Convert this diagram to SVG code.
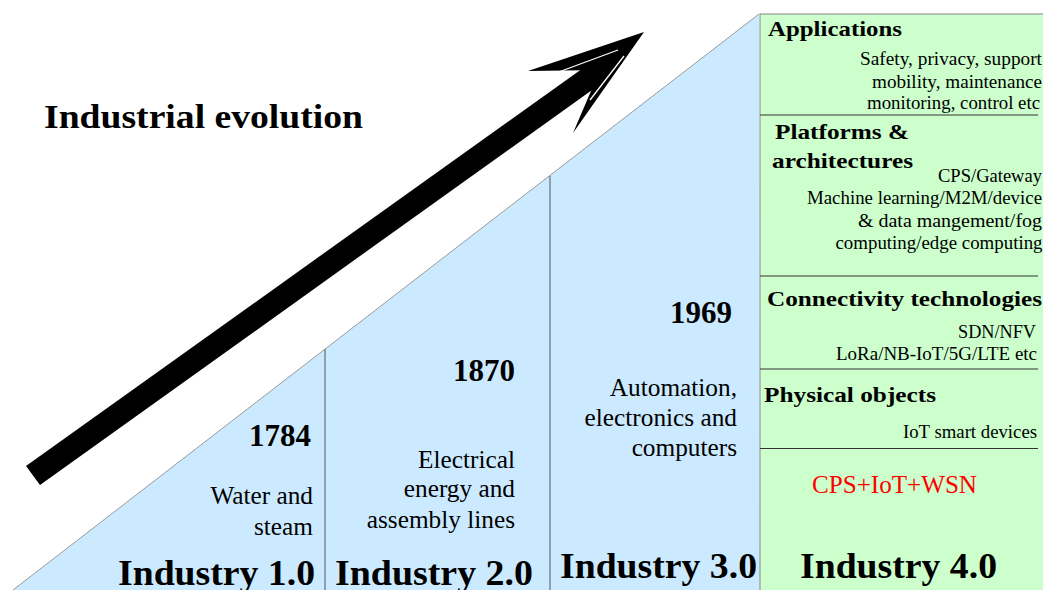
<svg xmlns="http://www.w3.org/2000/svg" width="1043" height="590" viewBox="0 0 1043 590" font-family="'Liberation Serif', 'DejaVu Serif', 'Times New Roman', serif">
<style>
text{font-family:'Liberation Serif','DejaVu Serif','Times New Roman',serif;fill:#000}
.hd{font-size:22px;font-weight:bold}
.sm{font-size:18.5px;text-anchor:end}
.yr{font-size:31px;font-weight:bold}
.ds{font-size:25.3px;text-anchor:end}
.ind{font-size:36px;font-weight:bold}
.sep{stroke:#333;stroke-width:1}
.vl{stroke:#555;stroke-width:1}
</style>
<rect width="1043" height="590" fill="#fff"/>
<g id="background">
<polygon points="13,590 759,14 760,590" fill="#cceaff"/>
<line x1="13" y1="590" x2="759" y2="14" stroke="#9a9a9a" stroke-width="1"/>
<rect x="760" y="14" width="290" height="580" fill="#ccffcc" stroke="#888" stroke-width="1"/>
</g>
<g id="connectors">
<line class="vl" x1="325" y1="349" x2="325" y2="590"/>
<line class="vl" x1="550" y1="176" x2="550" y2="590"/>
<line class="sep" x1="760" y1="115" x2="1038" y2="115"/>
<line class="sep" x1="760" y1="276" x2="1038" y2="276"/>
<line class="sep" x1="760" y1="369" x2="1038" y2="369"/>
<line class="sep" x1="760" y1="448.5" x2="1038" y2="448.5"/>
</g>
<g id="arrow">
<polygon points="26,466 40,485 613,75 600,56" fill="#000"/>
<polygon points="644,32 528,71 600,70 573,133" fill="#000"/>
<polyline points="556,73 618,50" fill="none" stroke="#fff" stroke-width="1.3"/>
<polyline points="590,100 624,56" fill="none" stroke="#fff" stroke-width="1.3"/>
</g>
<g id="title">
<text x="44" y="128" font-size="34" font-weight="bold" textLength="319" lengthAdjust="spacingAndGlyphs">Industrial evolution</text>
</g>
<g id="industry1">
<text class="yr" x="249" y="446" textLength="62" lengthAdjust="spacingAndGlyphs">1784</text>
<text class="ds" x="313" y="504">Water and</text>
<text class="ds" x="313" y="535">steam</text>
<text class="ind" x="118" y="585" textLength="197" lengthAdjust="spacingAndGlyphs">Industry 1.0</text>
</g>
<g id="industry2">
<text class="yr" x="453" y="381" textLength="62" lengthAdjust="spacingAndGlyphs">1870</text>
<text class="ds" x="515" y="468">Electrical</text>
<text class="ds" x="515" y="497">energy and</text>
<text class="ds" x="515" y="528">assembly lines</text>
<text class="ind" x="335" y="585" textLength="198" lengthAdjust="spacingAndGlyphs">Industry 2.0</text>
</g>
<g id="industry3">
<text class="yr" x="670" y="323" textLength="62" lengthAdjust="spacingAndGlyphs">1969</text>
<text class="ds" x="737" y="396">Automation,</text>
<text class="ds" x="737" y="426">electronics and</text>
<text class="ds" x="737" y="456">computers</text>
<text class="ind" x="560" y="578" textLength="197" lengthAdjust="spacingAndGlyphs">Industry 3.0</text>
</g>
<g id="applications">
<text class="hd" x="768" y="36" textLength="134" lengthAdjust="spacingAndGlyphs">Applications</text>
<text class="sm" x="1042" y="65" textLength="182" lengthAdjust="spacingAndGlyphs">Safety, privacy, support</text>
<text class="sm" x="1042" y="87.5" textLength="170" lengthAdjust="spacingAndGlyphs">mobility, maintenance</text>
<text class="sm" x="1040" y="108.5" textLength="173" lengthAdjust="spacingAndGlyphs">monitoring, control etc</text>
</g>
<g id="platforms">
<text class="hd" x="775" y="139" textLength="134" lengthAdjust="spacingAndGlyphs">Platforms &amp;</text>
<text class="hd" x="772" y="168" textLength="141" lengthAdjust="spacingAndGlyphs">architectures</text>
<text class="sm" x="1042" y="181.5" textLength="104" lengthAdjust="spacingAndGlyphs">CPS/Gateway</text>
<text class="sm" x="1042" y="204" textLength="235" lengthAdjust="spacingAndGlyphs">Machine learning/M2M/device</text>
<text class="sm" x="1042" y="226.5" textLength="184" lengthAdjust="spacingAndGlyphs">&amp; data mangement/fog</text>
<text class="sm" x="1042.5" y="249" textLength="207" lengthAdjust="spacingAndGlyphs">computing/edge computing</text>
</g>
<g id="connectivity">
<text class="hd" x="767" y="306" textLength="275" lengthAdjust="spacingAndGlyphs">Connectivity technologies</text>
<text class="sm" x="1036" y="337.5" textLength="78" lengthAdjust="spacingAndGlyphs">SDN/NFV</text>
<text class="sm" x="1037" y="360" textLength="201" lengthAdjust="spacingAndGlyphs">LoRa/NB-IoT/5G/LTE etc</text>
</g>
<g id="physical">
<text class="hd" x="764" y="402" textLength="172" lengthAdjust="spacingAndGlyphs">Physical objects</text>
<text class="sm" x="1037" y="438" textLength="134" lengthAdjust="spacingAndGlyphs">IoT smart devices</text>
</g>
<g id="industry4">
<text x="812" y="493" font-size="24.5" style="fill:#ff0000" textLength="165" lengthAdjust="spacingAndGlyphs">CPS+IoT+WSN</text>
<text class="ind" x="800" y="578" textLength="197" lengthAdjust="spacingAndGlyphs">Industry 4.0</text>
</g>
</svg>
